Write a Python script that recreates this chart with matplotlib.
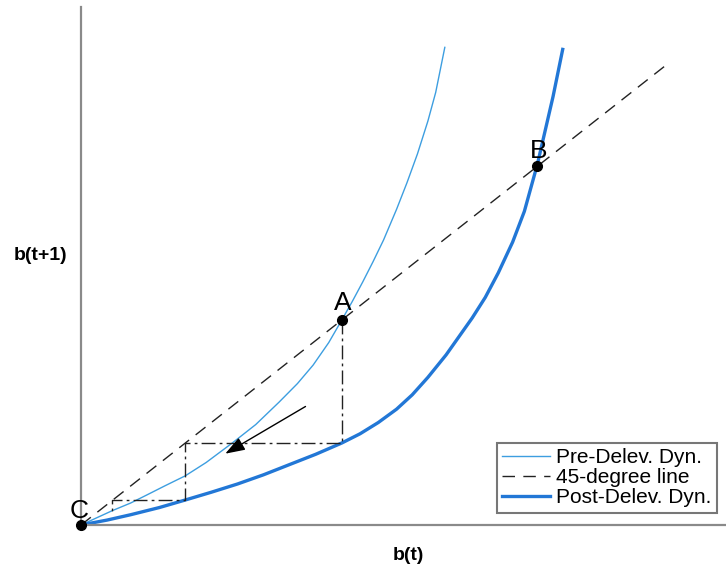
#!/usr/bin/env python3
# -*- coding: utf-8 -*-
"""Diagrama de fase b(t) -> b(t+1): dinamica pre e pos desalavancagem."""
import matplotlib
matplotlib.use('Agg')
import matplotlib.pyplot as plt

plt.rcParams['font.family'] = ['Liberation Sans', 'DejaVu Sans']

# curvas (b(t), b(t+1))
pre_b = [0.0, 0.06, 0.12, 0.19, 0.25, 0.32, 0.40, 0.48, 0.58, 0.67, 0.76, 0.83, 0.89, 0.95,
         1.0, 1.04, 1.08, 1.12, 1.16, 1.21, 1.25, 1.29, 1.33, 1.36, 1.395]
pre_y = [0.0, 0.035, 0.07, 0.107, 0.145, 0.19, 0.24, 0.305, 0.40, 0.49, 0.60, 0.69, 0.78, 0.89,
         1.0, 1.09, 1.185, 1.285, 1.39, 1.54, 1.67, 1.81, 1.97, 2.11, 2.33]

post_b = [0.0, 0.10, 0.19, 0.30, 0.40, 0.50, 0.60, 0.70, 0.80, 0.90, 1.0, 1.07, 1.14, 1.21,
          1.27, 1.33, 1.40, 1.45, 1.50, 1.55, 1.60, 1.655, 1.70, 1.75, 1.81, 1.847]
post_y = [0.0, 0.024, 0.05, 0.085, 0.122, 0.16, 0.20, 0.245, 0.295, 0.345, 0.40, 0.445, 0.50,
          0.565, 0.635, 0.72, 0.83, 0.92, 1.01, 1.11, 1.23, 1.38, 1.53, 1.76, 2.09, 2.32]

line45 = [0.0, 2.25]

# teia (cobweb) saindo de A
cob_b = [1.0, 1.0, 0.40, 0.40, 0.12, 0.12]
cob_y = [1.0, 0.40, 0.40, 0.12, 0.12, 0.06]

# pontos de equilibrio
pt_names = ['A', 'B', 'C']
pt_b = [1.0, 1.75, 0.0]
pt_y = [1.0, 1.75, 0.0]

# seta (inicio, fim)
arrow_from = (0.87, 0.585)
arrow_to = (0.544, 0.341)

W, H = 726, 572
fig = plt.figure(figsize=(W / 100, H / 100), dpi=100)
left, right, bottom, top = 81, 733, 525, 7
ax = fig.add_axes([left / W, 1 - bottom / H, (right - left) / W, (bottom - top) / H])
ax.set_xlim(0, 2.5)
ax.set_ylim(0, (bottom - top) / 205)

ax.plot(pre_b, pre_y, color='#3d9ee0', lw=1.0, label='Pre-Delev. Dyn.', clip_on=False)
ax.plot(line45, line45, color='#222222', lw=1.0, ls=(0, (9, 6)), label='45-degree line')
ax.plot(post_b, post_y, color='#2277d6', lw=2.4, label='Post-Delev. Dyn.', clip_on=False)
ax.plot(cob_b, cob_y, color='#222222', lw=1.0, ls=(0, (10, 3, 2, 3)))

ax.plot(pt_b, pt_y, 'o', color='black', ms=7, clip_on=False, zorder=5)
offsets = {'A': (1, 7), 'B': (1, 6), 'C': (-1.5, 5)}
for name, x, y in zip(pt_names, pt_b, pt_y):
    ax.annotate(name, (x, y), xytext=offsets[name], textcoords='offset points',
                ha='center', va='baseline', fontsize=19, annotation_clip=False)

ax.annotate('', xy=arrow_to, xytext=arrow_from,
            arrowprops=dict(arrowstyle='-|>,head_length=0.8,head_width=0.28',
                            color='black', lw=1.0, mutation_scale=15))

for side in ('top', 'right'):
    ax.spines[side].set_visible(False)
for side in ('left', 'bottom'):
    ax.spines[side].set_color('#8a8a8a')
    ax.spines[side].set_linewidth(1.6)
ax.set_xticks([])
ax.set_yticks([])

ax.set_xlabel('b(t)', fontsize=14, fontweight='bold')
ax.xaxis.set_label_coords((408 - left) / (right - left), -(556 - bottom) / (bottom - top))
ax.xaxis.label.set_va('center')
ax.set_ylabel('b(t+1)', fontsize=14, fontweight='bold', rotation=0)
ax.yaxis.set_label_coords((41 - left) / (right - left), (bottom - 256) / (bottom - top))
ax.yaxis.label.set_va('center')
ax.yaxis.label.set_ha('center')

leg = ax.legend(loc='upper left', bbox_to_anchor=((497 - left) / (right - left), (bottom - 443) / (bottom - top)),
                fontsize=15, frameon=True, fancybox=False, framealpha=1, edgecolor='#777777',
                borderpad=0.25, labelspacing=0.05, handlelength=2.3, handletextpad=0.3,
                borderaxespad=0)
leg.get_frame().set_linewidth(1.5)

fig.savefig('out.png', dpi=100)
